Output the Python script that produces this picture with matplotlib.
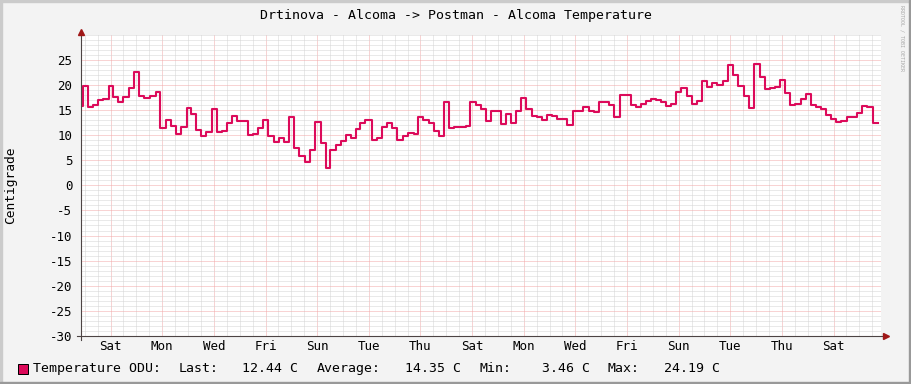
import matplotlib
matplotlib.use("Agg")
import matplotlib.pyplot as plt
from matplotlib.patches import Rectangle
from matplotlib.ticker import FixedLocator, MultipleLocator

plt.rcParams['font.family'] = 'DejaVu Sans Mono'
plt.rcParams['axes.unicode_minus'] = False

# step start (hours since the start of the window) and temperature (C)
hours = [0, 2.1, 6.5, 10.9, 16.1, 20.7, 25.7, 30.0, 34.7, 39.3,
         44.9, 49.5, 54.2, 58.6, 64.4, 69.7, 73.4, 78.7, 83.4, 88.0,
         92.9, 98.2, 102.2, 106.9, 111.3, 116.2, 122.0, 126.7, 131.3, 135.4,
         140.6, 145.3, 155.5, 160.2, 164.8, 168.9, 174.1, 179.7, 184.3, 189.0,
         193.6, 198.3, 202.9, 208.2, 212.9, 217.8, 222.8, 227.5, 231.4, 237.0,
         241.6, 246.3, 250.9, 255.6, 259.3, 263.9, 270.2, 275.4, 280.1, 284.7,
         289.4, 294.0, 299.6, 304.2, 309.5, 313.5, 318.2, 323.7, 328.4, 333.0,
         337.7, 342.3, 347.0, 352.3, 357.6, 361.9, 367.2, 371.5, 376.2, 380.8,
         385.7, 390.4, 395.0, 399.7, 404.3, 409.0, 413.6, 418.9, 424.1, 428.8,
         433.4, 438.1, 442.7, 452.0, 457.6, 466.9, 472.5, 477.1, 481.8, 491.1,
         495.7, 501.0, 510.9, 515.6, 520.2, 524.9, 529.5, 534.4, 539.1, 543.7,
         548.4, 553.0, 557.7, 563.0, 568.2, 572.8, 577.5, 582.1, 586.8, 591.4,
         597.0, 601.7, 606.3, 611.0, 616.5, 621.2, 625.8, 631.1, 635.8, 640.4,
         645.1, 649.7, 654.4, 659.0, 663.7, 669.0, 673.6, 678.3, 683.2, 687.9,
         692.5, 697.2, 701.8, 706.5, 711.8, 721.6, 726.3, 730.9, 736.5]
temps = [15.7, 19.85, 15.5, 15.9, 16.9, 17.1, 19.85, 17.65, 16.5, 17.5,
         19.4, 22.6, 17.85, 17.3, 17.85, 18.6, 11.35, 12.9, 11.8, 10.15,
         11.7, 15.35, 14.2, 11.0, 9.9, 10.7, 15.1, 10.7, 10.8, 12.5,
         13.7, 12.85, 10.0, 10.15, 11.35, 12.9, 9.85, 8.7, 9.4, 8.7,
         13.55, 7.5, 5.85, 4.7, 7.05, 12.7, 8.5, 3.46, 7.05, 8.05,
         8.85, 10.05, 9.4, 11.2, 12.35, 13.0, 9.05, 9.4, 11.55, 12.4,
         11.4, 9.05, 9.85, 10.5, 10.25, 13.5, 12.9, 12.4, 10.9, 9.9,
         16.5, 11.35, 11.7, 11.55, 11.75, 16.5, 16.0, 15.15, 12.85, 14.8,
         14.7, 12.15, 14.15, 12.5, 14.8, 17.3, 15.15, 13.7, 13.6, 13.0,
         14.0, 13.7, 13.1, 12.0, 14.7, 15.5, 14.8, 14.55, 16.5, 16.0,
         13.5, 18.0, 15.9, 15.5, 16.2, 16.85, 17.2, 16.95, 16.55, 15.8,
         16.2, 18.65, 19.3, 17.85, 16.2, 16.7, 20.85, 19.65, 20.3, 20.0,
         20.8, 23.95, 21.95, 19.8, 17.85, 15.35, 24.19, 21.6, 19.2, 19.3,
         19.65, 21.0, 18.45, 15.9, 16.2, 17.15, 18.2, 15.9, 15.55, 15.15,
         14.0, 13.15, 12.7, 12.85, 13.5, 14.35, 15.7, 15.55, 12.44]
last_hour = 741.1
window_hours = 743.6

day_names = ['Sat', 'Mon', 'Wed', 'Fri', 'Sun', 'Tue', 'Thu', 'Sat',
             'Mon', 'Wed', 'Fri', 'Sun', 'Tue', 'Thu', 'Sat']
first_label_hour = 27.5

title = 'Drtinova - Alcoma -> Postman - Alcoma Temperature'
series_name = 'Temperature ODU:'
stat_names = ['Last:', 'Average:', 'Min:', 'Max:']
stat_values = ['12.44 C', '14.35 C', '3.46 C', '24.19 C']

line_col = '#dc0a5a'
axis_col = '#4d4444'

W, H = 911, 384
fig = plt.figure(figsize=(W / 100, H / 100), dpi=100, facecolor='#f3f3f3')
ax = fig.add_axes([81 / W, (H - 336) / H, 800 / W, (336 - 34.6) / H])
ax.set_facecolor('white')

xs = hours + [last_hour]
ys = temps + [temps[-1]]
ax.step(xs, ys, where='post', color=line_col, linewidth=1.5, zorder=3)

ax.set_xlim(0, window_hours)
ax.set_ylim(-30, 30)

label_hours = [first_label_hour + 48 * i for i in range(len(day_names))]
minor_hours = [first_label_hour - 24 + 12 * i for i in range(64)]
ax.xaxis.set_major_locator(FixedLocator(label_hours))
ax.xaxis.set_minor_locator(FixedLocator([h for h in minor_hours if 0 < h < window_hours]))
ax.set_xticklabels(day_names)
ax.yaxis.set_major_locator(FixedLocator(list(range(-30, 26, 5))))
ax.yaxis.set_minor_locator(MultipleLocator(1))

ax.grid(which='minor', color='#d4d4d4', linestyle=(0, (1, 1)), linewidth=0.72)
ax.grid(which='major', color='#f2a8a8', linestyle=(0, (1, 1)), linewidth=0.72)
ax.set_axisbelow(True)

for s in ax.spines.values():
    s.set_visible(False)
ax.tick_params(which='both', length=0)
ax.tick_params(axis='y', pad=6.3, labelsize=9)
ax.tick_params(axis='x', pad=3.2, labelsize=9)

# axis lines with arrows, rrdtool style
ax.plot([-4 / 800, 1 + 3 / 800], [0, 0], transform=ax.transAxes,
        color=axis_col, lw=0.8, clip_on=False, zorder=4)
ax.plot([0, 0], [-4 / 301.4, 1 + 2 / 301.4], transform=ax.transAxes,
        color=axis_col, lw=0.8, clip_on=False, zorder=4)
ax.plot([1 + 5 / 800], [0], marker='>', ms=4, color='#a01818',
        transform=ax.transAxes, clip_on=False, zorder=5)
ax.plot([0], [1 + 3 / 301.4], marker='^', ms=4, color='#a01818',
        transform=ax.transAxes, clip_on=False, zorder=5)

fig.text(455.5 / W, 1 - 15 / H, title, ha='center', va='center', fontsize=9.5)
fig.text(11 / W, 1 - 185.5 / H, 'Centigrade', rotation=90,
         ha='center', va='center', fontsize=9.3)
fig.text(902.5 / W, 1 - 38 / H, 'RRDTOOL / TOBI OETIKER', rotation=270,
         ha='center', va='center', fontsize=3.6, color='#a8a8a8')

# legend line
fig.add_artist(Rectangle((17.5 / W, 1 - 373.5 / H), 10 / W, 10 / H,
                         facecolor=line_col, edgecolor='black', lw=0.72,
                         transform=fig.transFigure))
ly = 1 - 368.5 / H
fig.text(33 / W, ly, series_name, ha='left', va='center', fontsize=9.5)
name_x = [179, 317, 479, 608]
value_x = [242.5, 405, 542, 664.5]
for name, nx, val, vx in zip(stat_names, name_x, stat_values, value_x):
    fig.text(nx / W, ly, name, ha='left', va='center', fontsize=9.5)
    fig.text(vx / W, ly, val, ha='left', va='center', fontsize=9.5)

# 3d-ish border
fig.add_artist(Rectangle((0, 1 - 2 / H), 1, 2 / H, color='#cbcbcb', transform=fig.transFigure))
fig.add_artist(Rectangle((0, 0), 2 / W, 1, color='#cbcbcb', transform=fig.transFigure))
fig.add_artist(Rectangle((0, 0), 1, 2 / H, color='#999999', transform=fig.transFigure))
fig.add_artist(Rectangle((1 - 2 / W, 0), 2 / W, 1, color='#999999', transform=fig.transFigure))

fig.savefig('out.png', dpi=100, facecolor=fig.get_facecolor())
